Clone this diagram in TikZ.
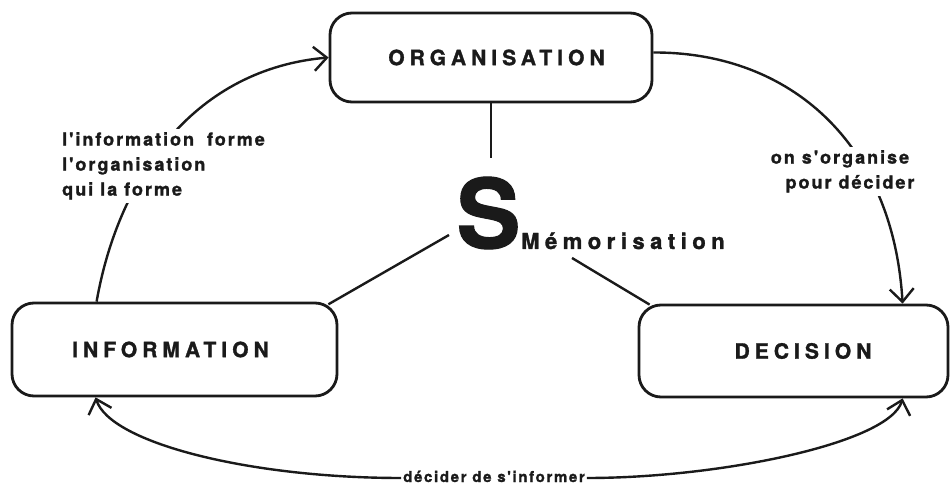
\documentclass[tikz,border=0pt]{standalone}
\usepackage{fontspec}
\setmainfont{TeX Gyre Heros}[BoldFeatures={FakeBold=1.2}]
\newfontfamily\HeadF{TeX Gyre Heros}[LetterSpace=24,BoldFeatures={FakeBold=1.4}]
\newfontfamily\MemF{TeX Gyre Heros}[LetterSpace=25,BoldFeatures={FakeBold=1.4}]
\newfontfamily\LabF{TeX Gyre Heros}[LetterSpace=11,BoldFeatures={FakeBold=1.3}]
\newfontfamily\BotF{TeX Gyre Heros}[LetterSpace=11,BoldFeatures={FakeBold=1.3}]
\usetikzlibrary{arrows.meta,calc}
\definecolor{ink}{HTML}{1A1A1A}
\begin{document}
\begin{tikzpicture}[x=1pt,y=1pt,
  box/.style={draw=ink, line width=2.8pt, rounded corners=22pt, inner sep=0pt, text=ink,
    font=\HeadF\bfseries\fontsize{21}{21}\selectfont},
  link/.style={draw=ink, line width=2.4pt},
  arr/.style={link, -{Straight Barb[length=13pt,width=24pt]}},
  lab/.style={fill=white, inner sep=3pt, text=ink,
    font=\LabF\bfseries\fontsize{18}{25}\selectfont}]
\fill[white] (0,0) rectangle (951,493);
\useasboundingbox (0,0) rectangle (951,493);

% boxes
\node[box, minimum width=322pt, minimum height=89pt] (org) at (491,435.5) {\hspace*{11pt}ORGANISATION};
\node[box, minimum width=325pt, minimum height=93pt] (info) at (174.5,143.5) {INFORMATION\hspace*{8pt}};
\node[box, minimum width=309pt, minimum height=92pt] (dec) at (793.5,142) {\hspace*{19pt}DECISION};

% centre
\node[inner sep=0pt, anchor=base, text=ink, font=\bfseries\fontsize{96}{96}\selectfont] (s) at (488.5,245) {S};
\node[inner sep=0pt, anchor=base west, text=ink, font=\MemF\bfseries\fontsize{22}{22}\selectfont] (mem) at (521,244) {Mémorisation};
\coordinate (sTop) at (491,335);
\coordinate (sLeft) at (449,258);
\coordinate (sRight) at (572,235);
\draw[link] (org.south) -- (sTop);
\draw[link] (sLeft) -- ($(info.north east)+(-10,-2.7)$);
\draw[link] (sRight) -- ($(dec.north west)+(12,-1)$);

% bottom label
\node[inner xsep=2pt, inner ysep=0pt, anchor=base, text=ink,
  font=\BotF\bfseries\fontsize{15}{15}\selectfont] (lab3) at (494,11) {décider de s'informer};

% cycle arrows
\draw[arr] ($(info.north west)+(86,0)$) to[out=80,in=185] (org.west);
\draw[arr] ($(org.east)+(0,5)$) .. controls (790,441) and (893,350) .. ($(dec.north west)+(265,0)$);
\draw[arr] ([yshift=4pt]lab3.base west) .. controls (250,15) and (110,50) .. ($(info.south west)+(85,0)$);
\draw[arr] ([yshift=4pt]lab3.base east) .. controls (720,15) and (890,50) .. ($(dec.south west)+(265,0)$);

% labels on arcs
\node[lab, align=left, anchor=north west] (lab1) at (59,364)
  {l'information\hspace{6pt} forme\\l'organisation\\qui la forme};
\node[lab, align=center, anchor=north] (lab2) at (840,346)
  {on s'organise\\\hspace*{20pt}pour décider};
\end{tikzpicture}
\end{document}
